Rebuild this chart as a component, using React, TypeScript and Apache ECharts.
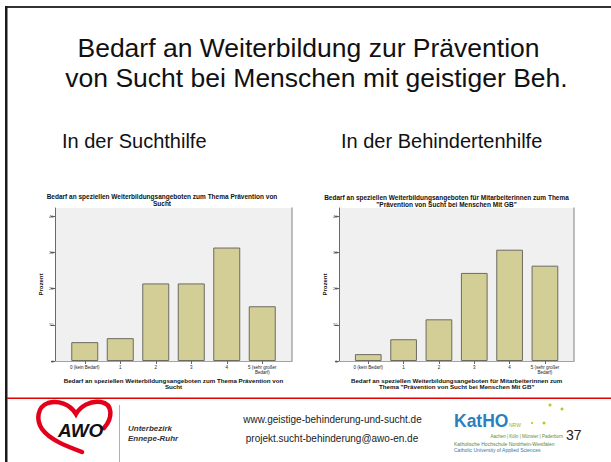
import React, { useEffect, useRef } from "react";
import * as echarts from "echarts";

const FONT = '"Liberation Sans", Arial, Helvetica, sans-serif';

const categories = ["0 (kein Bedarf)", "1", "2", "3", "4", "5 (sehr großer\nBedarf)"];
const suchthilfeValues = [5.2, 6.3, 21.4, 21.4, 31.3, 15.1];
const behindertenhilfeValues = [1.9, 6.0, 11.5, 24.3, 30.7, 26.3];
const yMin = 0;
const yMax = 40;
const yInterval = 10;

const slideTitle1 = "Bedarf an Weiterbildung zur Prävention";
const slideTitle2 = "von Sucht bei Menschen mit geistiger Beh.";
const subhead1 = "In der Suchthilfe";
const subhead2 = "In der Behindertenhilfe";
const chartTitle1 = "Bedarf an speziellen Weiterbildungsangeboten zum Thema Prävention von\nSucht";
const chartTitle2 =
  "Bedarf an speziellen Weiterbildungsangeboten für Mitarbeiterinnen zum Thema\n\"Prävention von Sucht bei Menschen Mit GB\"";
const xName1 = "Bedarf an speziellen Weiterbildungsangeboten zum Thema Prävention von\nSucht";
const xName2 =
  "Bedarf an speziellen Weiterbildungsangeboten für Mitarbeiterinnen zum\nThema \"Prävention von Sucht bei Menschen Mit GB\"";
const yName = "Prozent";

const HEART_D =
  "M104 428 C113 418 113 404 101 402 C90 400 80 407 76 414 C70 404 58 400 48 403 C37 407 36 420 42 429 C50 440 66 446 82 452";

let registered = false;
function registerShapes() {
  if (registered) return;
  registered = true;
  echarts.graphic.registerShape("awoHeart", echarts.graphic.extendPath(HEART_D, {}) as any);
}

function makePanel(
  idx: number,
  bg: { left: number; top: number; width: number; height: number },
  data: { left: number; top: number; width: number; height: number },
  xName: string,
  values: number[],
  barWidth: number
) {
  const gBg = idx * 2;
  const gData = idx * 2 + 1;
  const grids = [
    { ...bg, show: true, backgroundColor: "#f0f0f0", borderWidth: 0, outerBoundsMode: "none", containLabel: false },
    { ...data, show: false, outerBoundsMode: "none", containLabel: false },
  ];
  const xAxes = [
    {
      gridIndex: gBg,
      type: "value",
      min: 0,
      max: 1,
      position: "top",
      axisLine: { show: true, lineStyle: { color: "#a3a3a3", width: 1 } },
      axisTick: { show: false },
      axisLabel: { show: false },
      splitLine: { show: false },
    },
    {
      gridIndex: gData,
      type: "category",
      data: categories,
      boundaryGap: true,
      axisLine: { show: false },
      axisTick: { show: true, alignWithLabel: true, interval: 0, length: 3, lineStyle: { color: "#666" } },
      axisLabel: { interval: 0, fontSize: 4.5, color: "#222", margin: 4, lineHeight: 5, fontFamily: FONT },
      splitLine: { show: false },
      name: xName,
      nameLocation: "middle",
      nameGap: 16,
      nameTextStyle: { fontSize: 6.2, fontWeight: "bold", color: "#111", lineHeight: 6.5, fontFamily: FONT },
    },
  ];
  const yAxes = [
    {
      gridIndex: gBg,
      type: "value",
      min: 0,
      max: 1,
      position: "left",
      axisLine: { show: true, lineStyle: { color: "#6a6a6a", width: 1 } },
      axisTick: { show: false },
      axisLabel: { show: false },
      splitLine: { show: false },
      name: yName,
      nameLocation: "middle",
      nameGap: 11,
      nameTextStyle: { fontSize: 6, fontWeight: "bold", color: "#111", fontFamily: FONT },
    },
    {
      gridIndex: gBg,
      type: "value",
      min: 0,
      max: 1,
      position: "right",
      axisLine: { show: true, lineStyle: { color: "#a8a8a8", width: 1.5 } },
      axisTick: { show: false },
      axisLabel: { show: false },
      splitLine: { show: false },
    },
    {
      gridIndex: gData,
      type: "value",
      min: yMin,
      max: yMax,
      interval: yInterval,
      position: "left",
      offset: data.left - bg.left,
      axisLine: { show: false },
      axisTick: { show: true, length: 4, lineStyle: { color: "#666" } },
      axisLabel: { fontSize: 4, color: "#333", margin: 1.5, fontFamily: FONT },
      splitLine: { show: false },
    },
  ];
  const series = {
    type: "bar",
    xAxisIndex: idx * 2 + 1,
    yAxisIndex: idx * 3 + 2,
    data: values,
    barWidth,
    itemStyle: { color: "#d3ce96", borderColor: "#6b6b60", borderWidth: 1 },
  };
  return { grids, xAxes, yAxes, series };
}

export default function App() {
  const ref = useRef<HTMLDivElement>(null);
  useEffect(() => {
    if (!ref.current) return;
    registerShapes();
    const chart = echarts.init(ref.current, undefined, { renderer: "svg" });
    const p1 = makePanel(
      0,
      { left: 55, top: 208, width: 237, height: 153 },
      { left: 67, top: 216, width: 213, height: 145 },
      xName1,
      suchthilfeValues,
      27
    );
    const p2 = makePanel(
      1,
      { left: 339, top: 208, width: 235, height: 153 },
      { left: 350.6, top: 216, width: 212, height: 145 },
      xName2,
      behindertenhilfeValues,
      26.7
    );
    const txt = (
      x: number,
      y: number,
      text: string,
      fontSize: number,
      opts: any = {}
    ) => ({
      type: "text",
      x,
      y,
      silent: true,
      style: {
        text,
        fontSize,
        fontFamily: FONT,
        fill: "#111",
        align: "center",
        verticalAlign: "middle",
        ...opts,
      },
    });
    const option: any = {
      animation: false,
      backgroundColor: "#ffffff",
      textStyle: { fontFamily: FONT },
      grid: [...p1.grids, ...p2.grids],
      xAxis: [...p1.xAxes, ...p2.xAxes],
      yAxis: [...p1.yAxes, ...p2.yAxes],
      series: [p1.series, p2.series],
      graphic: [
        { type: "rect", shape: { x: 5, y: 6, width: 606, height: 2 }, style: { fill: "#333" }, silent: true },
        { type: "rect", shape: { x: 5, y: 6, width: 2.5, height: 456 }, style: { fill: "#1a1a1a" }, silent: true },
        { type: "rect", shape: { x: 7, y: 397.5, width: 604, height: 1.5 }, style: { fill: "#e00000" }, silent: true },
        txt(308.5, 48, slideTitle1, 26.5),
        txt(316.5, 78, slideTitle2, 26.5),
        txt(62, 141, subhead1, 20, { align: "left" }),
        txt(341, 141, subhead2, 20, { align: "left" }),
        txt(162, 193, chartTitle1, 6.5, { fontWeight: "bold", verticalAlign: "top", lineHeight: 7 }),
        txt(446.5, 194, chartTitle2, 6.5, { fontWeight: "bold", verticalAlign: "top", lineHeight: 7 }),
        // footer
        {
          type: "awoHeart",
          x: 0,
          y: 0,
          silent: true,
          style: { fill: "none", stroke: "#e2001a", lineWidth: 4.5, lineCap: "round" },
        },
        txt(58, 430, "AWO", 19, {
          align: "left",
          fontWeight: "bold",
          fontStyle: "italic",
          fill: "#111",
        }),
        { type: "rect", shape: { x: 119, y: 405, width: 1, height: 57 }, style: { fill: "#b0b0b0" }, silent: true },
        txt(128, 428, "Unterbezirk", 8, { align: "left", fontWeight: "bold", fontStyle: "italic", fill: "#333" }),
        txt(128, 438.5, "Ennepe-Ruhr", 8, { align: "left", fontWeight: "bold", fontStyle: "italic", fill: "#333" }),
        txt(332.5, 419, "www.geistige-behinderung-und-sucht.de", 10, { fill: "#222" }),
        txt(332, 438, "projekt.sucht-behinderung@awo-en.de", 10, { fill: "#222" }),
        txt(454, 421, "KatHO", 17.5, { align: "left", fontWeight: "bold", fill: "#2a7fc1" }),
        txt(509, 424.5, "NRW", 5, { align: "left", fill: "#9bb11e" }),
        { type: "circle", shape: { cx: 532, cy: 423, r: 1 }, style: { fill: "#b5c91e" }, silent: true },
        { type: "circle", shape: { cx: 544, cy: 423, r: 1.5 }, style: { fill: "#b5c91e" }, silent: true },
        { type: "circle", shape: { cx: 550, cy: 405, r: 1.5 }, style: { fill: "#b5c91e" }, silent: true },
        { type: "circle", shape: { cx: 562, cy: 409, r: 1.5 }, style: { fill: "#b5c91e" }, silent: true },
        txt(563, 436, "Aachen | Köln | Münster | Paderborn", 4.5, { align: "right", fill: "#5d8c2a" }),
        txt(454, 444, "Katholische Hochschule Nordrhein-Westfalen", 5, { align: "left", fill: "#4f8a3a" }),
        txt(454, 449.5, "Catholic University of Applied Sciences", 5, { align: "left", fill: "#2f78b0" }),
        txt(566, 435, "37", 14, { align: "left", fill: "#222" }),
      ],
    };
    chart.setOption(option);
    return () => chart.dispose();
  }, []);
  return (
    <div
      ref={ref}
      style={{ position: "fixed", left: 0, top: 0, width: 611, height: 462, background: "#fff" }}
    />
  );
}
